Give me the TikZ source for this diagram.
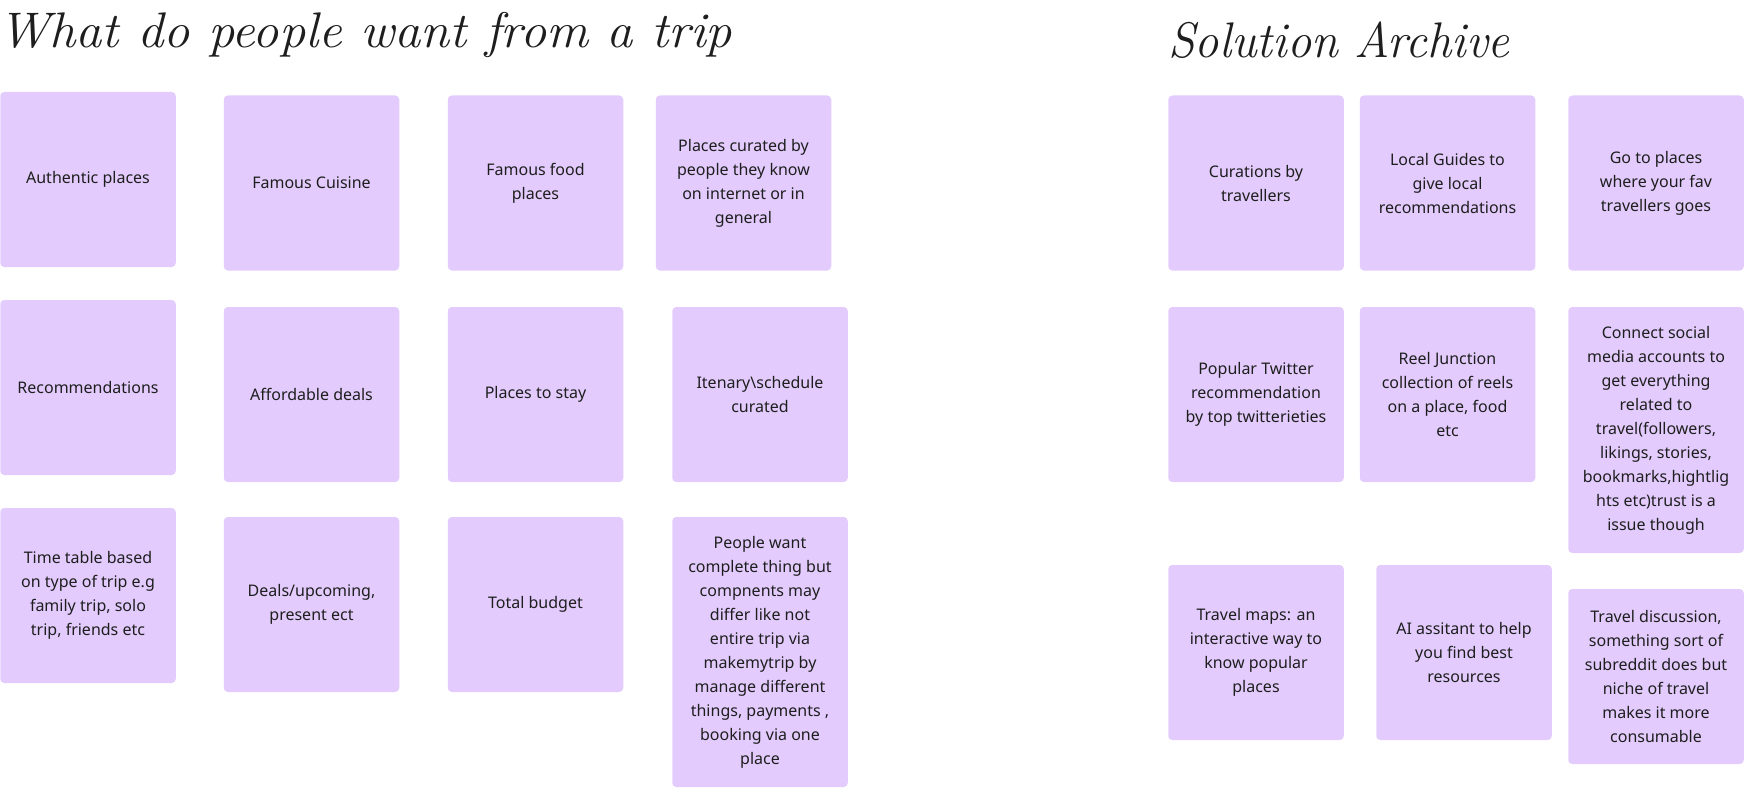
\documentclass[tikz,border=0pt]{standalone}
\usepackage{fontspec}
\setmainfont{Noto Sans}
\newfontfamily\handfont{Latin Modern Roman}
\definecolor{stickyc}{HTML}{E3CCFD}
\definecolor{textc}{HTML}{1E1E1E}
\tikzset{
  sticky/.style={fill=stickyc, rounded corners=4pt, inner sep=0pt, align=center,
    text=textc, font=\fontsize{16}{24}\selectfont,
    minimum width=175.5pt, minimum height=175pt},
  tall/.style={minimum height=#1},
  hand/.style={anchor=base west, inner sep=0pt, text=textc,
    font=\handfont\fontsize{50}{50}\selectfont\itshape}
}
\begin{document}
\begin{tikzpicture}[x=1pt,y=-1pt]
\useasboundingbox (0,0) rectangle (1744,789);
\node[hand] (t1) at (-2,48) {\scalebox{1.05}[1]{What do people want from a trip}};
\node[hand] (t2) at (1168,58) {\scalebox{0.97}[1]{Solution Archive}};
% left columns
\node[sticky] (auth) at (88,179.5) {Authentic places};
\node[sticky] (cuisine) at (311.5,183) {Famous Cuisine};
\node[sticky] (food) at (535.5,183) {Famous food\\places};
\node[sticky] (curated) at (743.5,183) {Places curated by\\people they know\\on internet or in\\general};
\node[sticky] (recom) at (88,387.5) {Recommendations};
\node[sticky] (afford) at (311.5,394.5) {Affordable deals};
\node[sticky] (stay) at (535.5,394.5) {Places to stay};
\node[sticky] (itin) at (760,394.5) {Itenary\textbackslash schedule\\curated};
\node[sticky] (timetable) at (88,595.5) {Time table based\\on type of trip e.g\\family trip, solo\\trip, friends etc};
\node[sticky] (deals) at (311.5,604.5) {Deals/upcoming,\\present ect};
\node[sticky] (budget) at (535.5,604.5) {Total budget};
\node[sticky, tall=270pt] (people) at (760,652) {People want\\complete thing but\\compnents may\\differ like not\\entire trip via\\makemytrip by\\manage different\\things, payments ,\\booking via one\\place};
% right columns
\node[sticky] (curations) at (1256,183) {Curations by\\travellers};
\node[sticky] (guides) at (1447.5,183) {Local Guides to\\give local\\recommendations};
\node[sticky] (goto) at (1656,183) {Go to places\\where your fav\\travellers goes};
\node[sticky] (twitter) at (1256,394.5) {Popular Twitter\\recommendation\\by top twitterieties};
\node[sticky] (reel) at (1447.5,394.5) {Reel Junction\\collection of reels\\on a place, food\\etc};
\node[sticky, tall=246pt] (connect) at (1656,430) {Connect social\\media accounts to\\get everything\\related to\\travel(followers,\\likings, stories,\\bookmarks,hightlig\\hts etc)trust is a\\issue though};
\node[sticky] (maps) at (1256,652.5) {Travel maps: an\\interactive way to\\know popular\\places};
\node[sticky] (ai) at (1464,652.5) {AI assitant to help\\you find best\\resources};
\node[sticky] (discussion) at (1656,676.5) {Travel discussion,\\something sort of\\subreddit does but\\niche of travel\\makes it more\\consumable};
\end{tikzpicture}
\end{document}
